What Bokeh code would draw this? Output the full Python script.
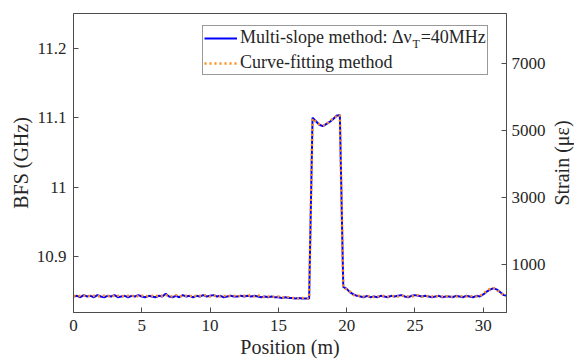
import math
from bokeh.plotting import figure
from bokeh.layouts import row
from bokeh.models import Range1d, LinearAxis, FixedTicker, Legend, LegendItem, Label
from bokeh.core.properties import value
from bokeh.embed import file_html
from bokeh.resources import INLINE

# ---------------- data ----------------
position_m = [
    0.00, 0.25, 0.50, 0.75, 1.00, 1.25, 1.50, 1.75, 2.00, 2.25, 2.50, 2.75,
    3.00, 3.25, 3.50, 3.75, 4.00, 4.25, 4.50, 4.75, 5.00, 5.25, 5.50, 5.75,
    6.00, 6.25, 6.50, 6.75, 7.00, 7.25, 7.50, 7.75, 8.00, 8.25, 8.50, 8.75,
    9.00, 9.25, 9.50, 9.75, 10.00, 10.25, 10.50, 10.75, 11.00, 11.25, 11.50, 11.75,
    12.00, 12.25, 12.50, 12.75, 13.00, 13.25, 13.50, 13.75, 14.00, 14.25, 14.50, 14.75,
    15.00, 15.25, 15.50, 15.75, 16.00, 16.25, 16.50, 16.75, 17.00, 17.25, 17.50, 17.75,
    18.00, 18.25, 18.50, 18.75, 19.00, 19.25, 19.50, 19.75, 20.00, 20.25, 20.50, 20.75,
    21.00, 21.25, 21.50, 21.75, 22.00, 22.25, 22.50, 22.75, 23.00, 23.25, 23.50, 23.75,
    24.00, 24.25, 24.50, 24.75, 25.00, 25.25, 25.50, 25.75, 26.00, 26.25, 26.50, 26.75,
    27.00, 27.25, 27.50, 27.75, 28.00, 28.25, 28.50, 28.75, 29.00, 29.25, 29.50, 29.75,
    30.00, 30.25, 30.50, 30.75, 31.00, 31.25, 31.50, 31.75,
]

bfs_multislope_ghz = [
    10.843, 10.844, 10.842, 10.845, 10.843, 10.844, 10.842, 10.845, 10.843, 10.842, 10.844, 10.843,
    10.845, 10.842, 10.843, 10.844, 10.842, 10.844, 10.843, 10.845, 10.843, 10.842, 10.844, 10.843,
    10.842, 10.844, 10.843, 10.847, 10.843, 10.842, 10.844, 10.842, 10.845, 10.843, 10.844, 10.842,
    10.844, 10.843, 10.845, 10.843, 10.844, 10.845, 10.843, 10.844, 10.842, 10.843, 10.844, 10.843,
    10.843, 10.844, 10.843, 10.844, 10.843, 10.844, 10.843, 10.842, 10.843, 10.842, 10.843, 10.842,
    10.842, 10.841, 10.842, 10.841, 10.841, 10.840, 10.841, 10.840, 10.840, 10.840, 11.100, 11.095,
    11.090, 11.088, 11.091, 11.094, 11.098, 11.103, 11.104, 10.857, 10.854, 10.849, 10.846, 10.844,
    10.843, 10.842, 10.844, 10.842, 10.843, 10.842, 10.844, 10.843, 10.842, 10.844, 10.843, 10.844,
    10.845, 10.843, 10.842, 10.844, 10.845, 10.844, 10.843, 10.844, 10.843, 10.842, 10.843, 10.844,
    10.842, 10.843, 10.843, 10.842, 10.844, 10.843, 10.842, 10.844, 10.843, 10.842, 10.844, 10.843,
    10.846, 10.850, 10.853, 10.855, 10.853, 10.849, 10.845, 10.844,
]

bfs_curvefit_ghz = [
    10.844, 10.843, 10.844, 10.844, 10.845, 10.843, 10.844, 10.843, 10.844, 10.844, 10.843, 10.845,
    10.843, 10.844, 10.844, 10.843, 10.844, 10.843, 10.845, 10.843, 10.844, 10.844, 10.843, 10.844,
    10.843, 10.845, 10.844, 10.845, 10.844, 10.843, 10.845, 10.843, 10.844, 10.844, 10.843, 10.845,
    10.843, 10.844, 10.844, 10.845, 10.843, 10.844, 10.844, 10.843, 10.844, 10.843, 10.844, 10.844,
    10.843, 10.844, 10.844, 10.845, 10.844, 10.843, 10.845, 10.843, 10.842, 10.843, 10.843, 10.842,
    10.843, 10.842, 10.841, 10.842, 10.841, 10.841, 10.840, 10.841, 10.840, 10.840, 11.099, 11.094,
    11.091, 11.089, 11.090, 11.095, 11.099, 11.102, 11.104, 10.856, 10.853, 10.850, 10.845, 10.844,
    10.844, 10.843, 10.843, 10.844, 10.842, 10.843, 10.843, 10.844, 10.843, 10.843, 10.844, 10.843,
    10.844, 10.844, 10.843, 10.843, 10.844, 10.845, 10.843, 10.843, 10.844, 10.843, 10.844, 10.843,
    10.843, 10.844, 10.842, 10.843, 10.843, 10.844, 10.843, 10.843, 10.844, 10.843, 10.843, 10.844,
    10.847, 10.851, 10.854, 10.855, 10.852, 10.848, 10.845, 10.843,
]

x_ticks = [0, 5, 10, 15, 20, 25, 30]
bfs_ticks = [10.9, 11.0, 11.1, 11.2]
strain_ticks = [1000, 3000, 5000, 7000]
strain_title = "Strain (\u03bc\u03b5)"

BFS_MIN, BFS_MAX = 10.82, 11.25
X_MIN, X_MAX = 0, 31.7
BFS_ZERO_STRAIN = 10.841      # GHz at zero strain
STRAIN_COEFF = 0.0482         # MHz per microstrain

FONT = "Liberation Serif"
AX_COLOR = "#4d4d4d"
TXT_COLOR = "#262626"
TITLE_W = 26
TOP, BOTTOM = 13, 50

p = figure(width=574 - TITLE_W, height=362, output_backend="svg", toolbar_location=None,
           x_range=Range1d(X_MIN, X_MAX), y_range=Range1d(BFS_MIN, BFS_MAX),
           min_border_left=73, min_border_right=68 - TITLE_W,
           min_border_top=TOP, min_border_bottom=BOTTOM)
p.background_fill_color = "white"
p.border_fill_color = "white"
p.outline_line_color = AX_COLOR
p.outline_line_width = 1
p.xgrid.visible = False
p.ygrid.visible = False

p.extra_y_ranges = {"strain": Range1d(
    (BFS_MIN - BFS_ZERO_STRAIN) * 1000 / STRAIN_COEFF,
    (BFS_MAX - BFS_ZERO_STRAIN) * 1000 / STRAIN_COEFF)}

def style_axis(ax):
    ax.axis_line_color = AX_COLOR
    ax.major_tick_line_color = AX_COLOR
    ax.major_tick_in = 5
    ax.major_tick_out = 0
    ax.minor_tick_line_color = None
    ax.major_label_text_font = FONT
    ax.major_label_text_font_size = "17px"
    ax.major_label_text_color = TXT_COLOR
    ax.axis_label_text_font = FONT
    ax.axis_label_text_font_style = "normal"
    ax.axis_label_text_font_size = "20px"
    ax.axis_label_text_color = TXT_COLOR
    ax.major_label_standoff = 7

style_axis(p.xaxis[0])
p.xaxis[0].ticker = FixedTicker(ticks=x_ticks)
p.xaxis[0].axis_label = "Position (m)"
p.xaxis[0].axis_label_standoff = 2

style_axis(p.yaxis[0])
p.yaxis[0].ticker = FixedTicker(ticks=bfs_ticks)
p.yaxis[0].major_label_overrides = {11: "11", 11.0: "11"}
p.yaxis[0].axis_label = "BFS (GHz)"
p.yaxis[0].axis_label_standoff = 2

right_ax = LinearAxis(y_range_name="strain", ticker=FixedTicker(ticks=strain_ticks))
style_axis(right_ax)
right_ax.major_label_standoff = 5
p.add_layout(right_ax, "right")

r_ms = p.line(position_m, bfs_multislope_ghz, line_color="#0000FF", line_width=2)
r_cf = p.line(position_m, bfs_curvefit_ghz, line_color="#FF8C1A", line_width=2.5,
              line_dash="2 3")

legend = Legend(items=[
    LegendItem(label="Multi-slope method: \u0394\u03bd\u2002=40MHz", renderers=[r_ms]),
    LegendItem(label="Curve-fitting method", renderers=[r_cf]),
], location=(129, 237))
legend.label_text_font = FONT
legend.label_text_font_size = "18px"
legend.label_text_color = TXT_COLOR
legend.border_line_color = "#333333"
legend.border_line_width = 1
legend.background_fill_alpha = 0
legend.padding = 1
legend.spacing = 4
legend.glyph_width = 33
legend.glyph_height = 20
legend.label_height = 20
legend.label_standoff = 3
legend.margin = 0
p.add_layout(legend, "center")

# subscript T of the legend label
p.add_layout(Label(x=339, y=269, x_units="screen", y_units="screen", text="T",
                   text_font=FONT, text_font_size="12px", text_color=TXT_COLOR,
                   text_baseline="middle", text_align="left"))

# right-hand axis title, reading bottom-to-top, in a narrow strip
t = figure(width=TITLE_W, height=362, output_backend="svg", toolbar_location=None,
           x_range=Range1d(-1, 1), y_range=Range1d(-1, 1),
           min_border_left=0, min_border_right=0,
           min_border_top=TOP, min_border_bottom=BOTTOM)
t.axis.visible = False
t.grid.visible = False
t.outline_line_color = None
t.background_fill_color = "white"
t.border_fill_color = "white"
t.text(x=[0], y=[0], text=[strain_title], angle=math.pi / 2,
       text_align="center", text_baseline="middle",
       text_font=value(FONT), text_font_size="20px", text_color=TXT_COLOR)

layout = row(p, t, spacing=0)
open("out.html", "w").write(file_html(layout, INLINE))
